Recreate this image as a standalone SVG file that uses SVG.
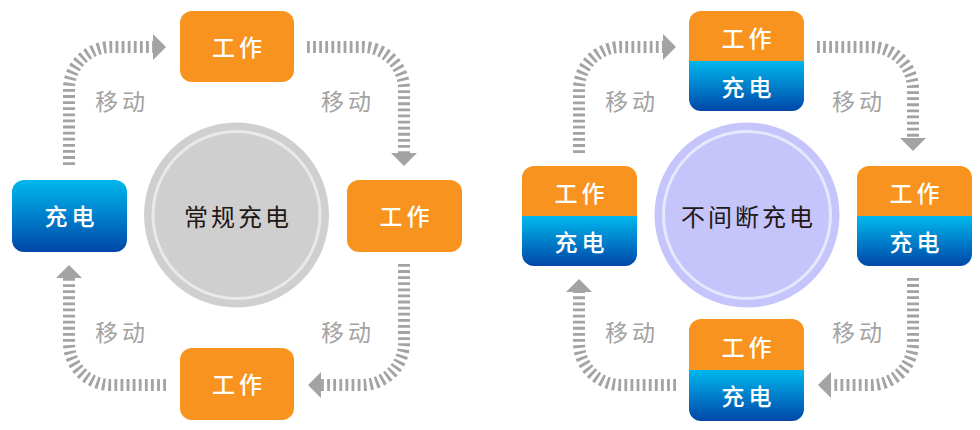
<svg xmlns="http://www.w3.org/2000/svg" width="980" height="430" viewBox="0 0 980 430">
<style>
.box{font-family:"Noto Sans CJK SC","Noto Sans",sans-serif;font-size:23px;font-weight:500;fill:#ffffff;text-anchor:middle;dominant-baseline:central;letter-spacing:4px}
.lbl{font-family:"Noto Sans CJK SC","Noto Sans",sans-serif;font-size:23px;fill:#a3a3a3;text-anchor:middle;dominant-baseline:central;letter-spacing:4px}
.ctr{font-family:"Noto Sans CJK SC","Noto Sans",sans-serif;font-size:24px;fill:#231815;text-anchor:middle;dominant-baseline:central;letter-spacing:3px}
.orange{fill:#f7931e}
.blue{fill:url(#bg)}
.con{fill:none;stroke:#a3a3a3;stroke-width:12;stroke-dasharray:2.8 3.3;marker-end:url(#ah)}
.ring{fill:none;stroke-width:3}
</style>
<defs>
<linearGradient id="bg" x1="0" y1="0" x2="0" y2="1">
<stop offset="0" stop-color="#00b8ee"/>
<stop offset="1" stop-color="#0047a8"/>
</linearGradient>
<marker id="ah" markerUnits="userSpaceOnUse" markerWidth="14" markerHeight="27" refX="0" refY="13" orient="auto" viewBox="0 0 14 27">
<path d="M0,0 L13,13 L0,26 Z" fill="#a3a3a3"/>
</marker>
</defs>

<g id="connectors">
<path class="con" d="M69,165 V89 A42,42 0 0 1 111,47 H153"/>
<path class="con" d="M307,47 H362 A42,42 0 0 1 404,89 V153"/>
<path class="con" d="M404,264 V343 A42,42 0 0 1 362,385 H321"/>
<path class="con" d="M166,385 H111 A42,42 0 0 1 69,343 V278"/>
<path class="con" d="M579,153 V89 A42,42 0 0 1 621,47 H663"/>
<path class="con" d="M817,47 H871 A42,42 0 0 1 913,89 V138"/>
<path class="con" d="M913,278 V343 A42,42 0 0 1 871,385 H831"/>
<path class="con" d="M676,385 H621 A42,42 0 0 1 579,343 V292"/>
</g>

<g id="labels">
<text class="lbl" x="122" y="100">移动</text>
<text class="lbl" x="348" y="100">移动</text>
<text class="lbl" x="122" y="331">移动</text>
<text class="lbl" x="348" y="331">移动</text>
<text class="lbl" x="632" y="100">移动</text>
<text class="lbl" x="859" y="100">移动</text>
<text class="lbl" x="632" y="331">移动</text>
<text class="lbl" x="859" y="331">移动</text>
</g>

<!-- Left diagram -->
<g id="center-regular">
<circle cx="236.5" cy="215" r="92.5" fill="#cfcfcf"/>
<circle class="ring" cx="236.5" cy="215" r="83.5" stroke="#e9e9e9"/>
<text class="ctr" x="238" y="215">常规充电</text>
</g>
<g id="L-top">
<rect class="orange" x="180" y="11" width="114" height="71" rx="12"/>
<text class="box" x="239" y="46">工作</text>
</g>
<g id="L-right">
<rect class="orange" x="347" y="180" width="115" height="72" rx="12"/>
<text class="box" x="406.5" y="215">工作</text>
</g>
<g id="L-bottom">
<rect class="orange" x="180" y="348" width="114" height="72" rx="12"/>
<text class="box" x="239" y="383">工作</text>
</g>
<g id="L-left">
<rect class="blue" x="12" y="180" width="115" height="72" rx="12"/>
<text class="box" x="71.5" y="215">充电</text>
</g>

<!-- Right diagram -->
<g id="center-continuous">
<circle cx="747" cy="215" r="92.5" fill="#c5c4fb"/>
<circle class="ring" cx="747" cy="215" r="83.5" stroke="#e7e7fd"/>
<text class="ctr" x="748.5" y="215">不间断充电</text>
</g>
<g id="R-top">
<path class="orange" d="M689,61 V23 A12,12 0 0 1 701,11 H792 A12,12 0 0 1 804,23 V61 Z"/>
<path class="blue" d="M689,61 H804 V99 A12,12 0 0 1 792,111 H701 A12,12 0 0 1 689,99 Z"/>
<text class="box" x="748.5" y="37">工作</text>
<text class="box" x="748.5" y="86">充电</text>
</g>
<g id="R-left">
<path class="orange" d="M522,216 V178 A12,12 0 0 1 534,166 H625 A12,12 0 0 1 637,178 V216 Z"/>
<path class="blue" d="M522,216 H637 V254 A12,12 0 0 1 625,266 H534 A12,12 0 0 1 522,254 Z"/>
<text class="box" x="581.5" y="192">工作</text>
<text class="box" x="581.5" y="241">充电</text>
</g>
<g id="R-right">
<path class="orange" d="M857,216 V178 A12,12 0 0 1 869,166 H960 A12,12 0 0 1 972,178 V216 Z"/>
<path class="blue" d="M857,216 H972 V254 A12,12 0 0 1 960,266 H869 A12,12 0 0 1 857,254 Z"/>
<text class="box" x="916.5" y="192">工作</text>
<text class="box" x="916.5" y="241">充电</text>
</g>
<g id="R-bottom">
<path class="orange" d="M689,370 V331 A12,12 0 0 1 701,319 H792 A12,12 0 0 1 804,331 V370 Z"/>
<path class="blue" d="M689,370 H804 V409 A12,12 0 0 1 792,421 H701 A12,12 0 0 1 689,409 Z"/>
<text class="box" x="748.5" y="346">工作</text>
<text class="box" x="748.5" y="395">充电</text>
</g>
</svg>
